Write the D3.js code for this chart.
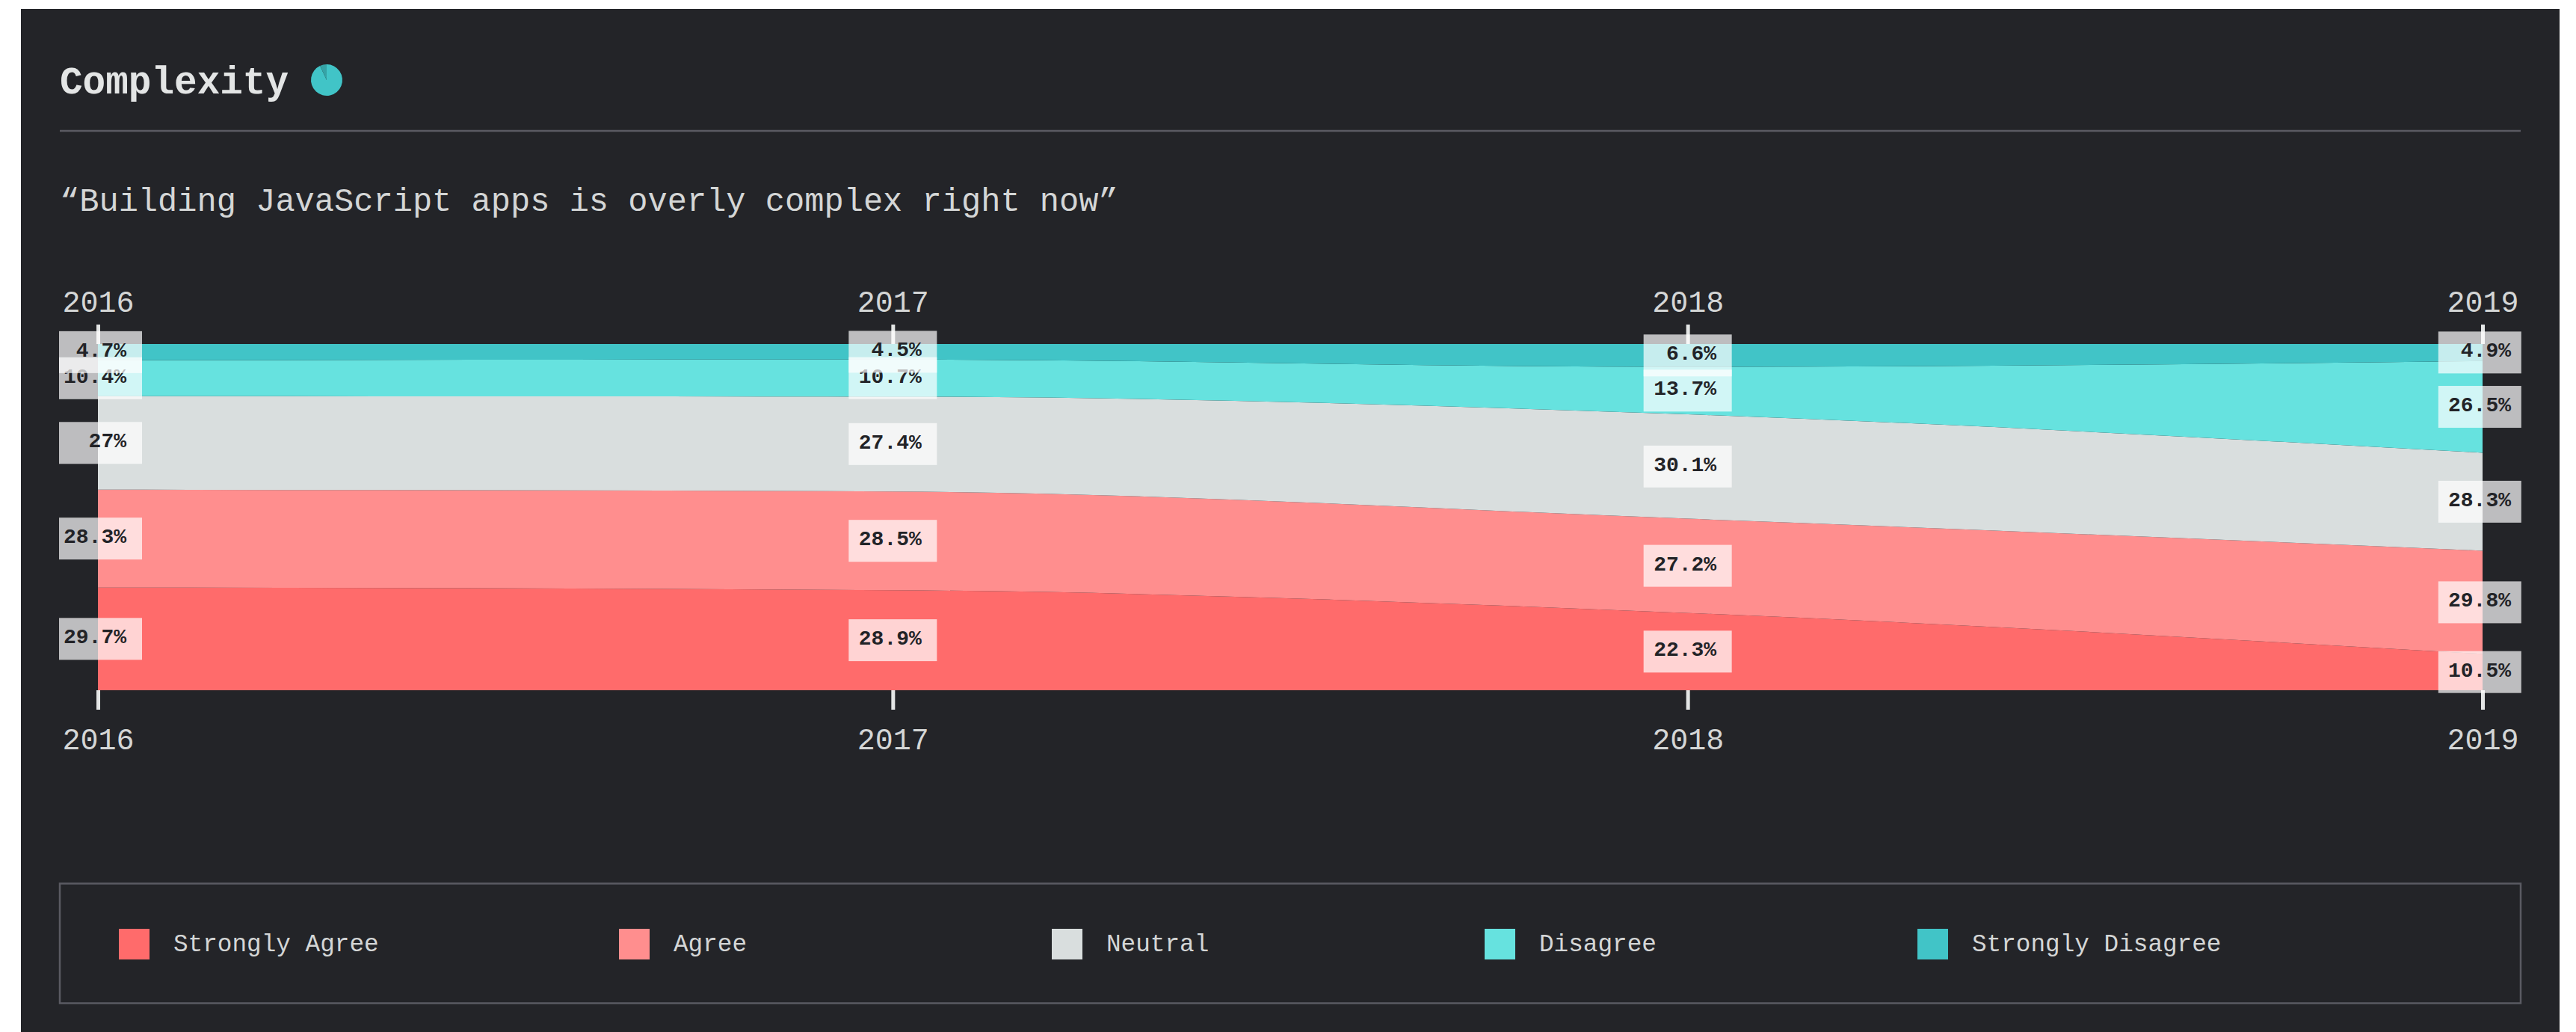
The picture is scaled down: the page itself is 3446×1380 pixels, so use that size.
<!DOCTYPE html>
<html>
<head>
<meta charset="utf-8">
<script src="https://cdn.jsdelivr.net/npm/d3@7"></script>
<style>
  html, body { margin: 0; padding: 0; background: #fff; }
  text { font-family: "Liberation Mono", monospace; }
</style>
</head>
<body>
<svg id="chart" width="3446" height="1380"></svg>
<script>
const years = [2016, 2017, 2018, 2019];
const seriesNames = ["Strongly Agree", "Agree", "Neutral", "Disagree", "Strongly Disagree"];
const stronglyAgree = [29.7, 28.9, 22.3, 10.5];
const agree = [28.3, 28.5, 27.2, 29.8];
const neutral = [27, 27.4, 30.1, 28.3];
const disagree = [10.4, 10.7, 13.7, 26.5];
const stronglyDisagree = [4.7, 4.5, 6.6, 4.9];
const seriesColors = ["#ff6b6b", "#ff8e8e", "#d9dede", "#66e2df", "#41c4c7"];
const iconSlices = [93, 7];

const allValues = [stronglyAgree, agree, neutral, disagree, stronglyDisagree];
const rows = years.map((year, i) => {
  const row = { year };
  seriesNames.forEach((name, s) => { row[name] = allValues[s][i]; });
  return row;
});

const svg = d3.select("#chart");
const textColor = "#e3e5e5";
const softText = "#d4d6d6";
const lineColor = "#5a5a62";

svg.append("rect").attr("x", 28).attr("y", 12).attr("width", 3396).attr("height", 1368).attr("fill", "#232428");

// header
svg.append("text").attr("x", 80).attr("y", 125).attr("font-size", 51).attr("font-weight", 700)
  .attr("fill", textColor).text("Complexity");

const pie = d3.pie().sort(null)(iconSlices);
const iconArc = d3.arc().innerRadius(0).outerRadius(21);
svg.append("g").attr("transform", "translate(437,107)")
  .selectAll("path").data(pie).join("path")
  .attr("d", iconArc)
  .attr("fill", (d, i) => i === 0 ? "#41c4c7" : "#35a3a6");

svg.append("line").attr("x1", 80).attr("x2", 3372).attr("y1", 175).attr("y2", 175)
  .attr("stroke", lineColor).attr("stroke-width", 2.5);

svg.append("text").attr("x", 80).attr("y", 282).attr("font-size", 43.7)
  .attr("fill", softText).text("“Building JavaScript apps is overly complex right now”");

// streams
const x = d3.scaleLinear().domain([2016, 2019]).range([131, 3321]);
const y = d3.scaleLinear().domain([0, 1]).range([923, 460]);

const stacked = d3.stack().keys(seriesNames).offset(d3.stackOffsetExpand)(rows);

const area = d3.area()
  .x(d => x(d.data.year))
  .y0(d => y(d[0]))
  .y1(d => y(d[1]))
  .curve(d3.curveMonotoneX);

svg.append("g").selectAll("path").data(stacked).join("path")
  .attr("d", area)
  .attr("fill", (d, i) => seriesColors[i]);

// axes
const yearFormat = d3.format("d");
const topAxis = d3.axisTop(x).tickValues(years).tickFormat(yearFormat).tickSize(26).tickPadding(17);
const bottomAxis = d3.axisBottom(x).tickValues(years).tickFormat(yearFormat).tickSize(26).tickPadding(25);

[[topAxis, 460], [bottomAxis, 923]].forEach(([axis, pos]) => {
  const g = svg.append("g").attr("transform", `translate(0,${pos})`).call(axis);
  g.select(".domain").remove();
  g.selectAll(".tick line").attr("stroke", textColor).attr("stroke-width", 5);
  g.selectAll(".tick text").attr("fill", softText).attr("font-size", 40).attr("font-family", "Liberation Mono");
});

// value labels, bottom series first so the upper boxes sit over the lower ones
const labelFormat = d3.format(".3~r");
stacked.forEach((layer, s) => {
  const g = svg.append("g");
  layer.forEach((d, i) => {
    const edge = i === 0 || i === years.length - 1;
    const boxW = edge ? 111 : 118;
    const cx = x(years[i]) + (i === 0 ? 3.5 : i === years.length - 1 ? -3.7 : 0);
    const endX = cx + (i === 0 ? 34.5 : i === years.length - 1 ? 41.7 : 38.5);
    const cy = y((d[0] + d[1]) / 2);
    g.append("rect")
      .attr("x", cx - boxW / 2).attr("y", cy - 28)
      .attr("width", boxW).attr("height", 56)
      .attr("fill", "#fff").attr("fill-opacity", 0.7);
    g.append("text")
      .attr("x", endX).attr("y", cy + 6)
      .attr("text-anchor", "end")
      .attr("font-size", 28).attr("font-weight", 700)
      .attr("fill", "#222327")
      .text(labelFormat(allValues[s][i]) + "%");
  });
});

// legend
svg.append("rect").attr("x", 80).attr("y", 1181.5).attr("width", 3292).attr("height", 160)
  .attr("fill", "none").attr("stroke", lineColor).attr("stroke-width", 2.5);

// first item is wider than the rest, so the spacing is not even
const legendX = d3.scaleOrdinal().domain(seriesNames).range([159, 828, 1407, 1986, 2565]);
const legend = svg.append("g").selectAll("g").data(seriesNames).join("g")
  .attr("transform", d => `translate(${legendX(d)},1242)`);
legend.append("rect").attr("width", 41).attr("height", 41).attr("fill", (d, i) => seriesColors[i]);
legend.append("text").attr("x", 73).attr("y", 30).attr("font-size", 32.7)
  .attr("fill", softText).text(d => d);
</script>
</body>
</html>
